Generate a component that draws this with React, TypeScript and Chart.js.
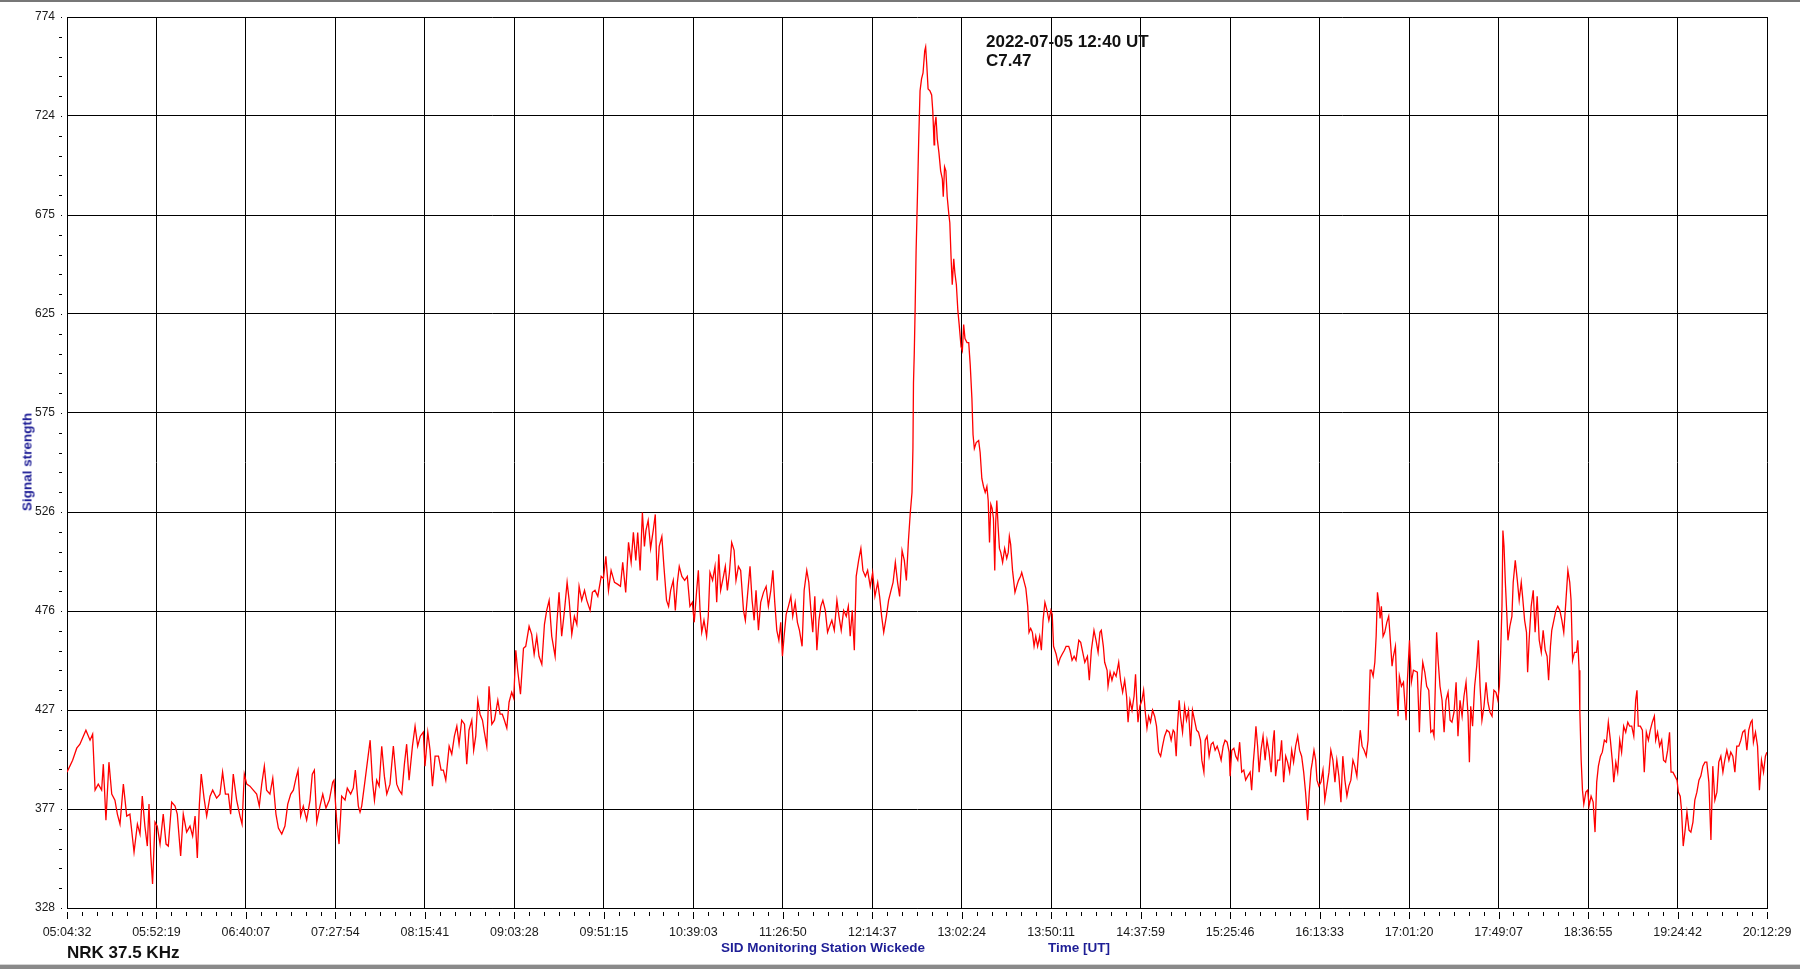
import React, { useEffect, useRef } from 'react';
import { Chart, registerables } from 'chart.js';

Chart.register(...registerables);

// x values are minutes after 05:04:32 UT (first tick) up to 20:12:29 UT (last tick)
const xSpanMinutes = 907.95;
const yMin = 328;
const yMax = 774;

const xTickLabels = [
  '05:04:32', '05:52:19', '06:40:07', '07:27:54', '08:15:41', '09:03:28', '09:51:15',
  '10:39:03', '11:26:50', '12:14:37', '13:02:24', '13:50:11', '14:37:59', '15:25:46',
  '16:13:33', '17:01:20', '17:49:07', '18:36:55', '19:24:42', '20:12:29',
];
const yTickLabels = ['328', '377', '427', '476', '526', '575', '625', '675', '724', '774'];

// 05:04 - 07:40
const morningMinutes = [
  0.0, 3.0, 5.2, 6.9, 10.1, 12.3, 13.7, 15.0, 16.7, 18.5, 19.4, 20.8, 22.4, 23.9, 25.6, 26.9, 28.3, 30.1, 31.9, 33.6,
  35.8, 37.6, 39.0, 40.2, 41.6, 42.9, 43.8, 44.7, 45.7, 47.0, 48.2, 49.7, 51.4, 52.9, 54.1, 55.9, 57.7, 58.9, 60.7, 62.1,
  63.9, 65.7, 67.1, 68.4, 69.6, 70.7, 71.7, 73.2, 74.6, 76.4, 77.8, 79.9, 81.7, 83.1, 84.6, 86.2, 87.4, 88.8, 90.6, 92.4,
  93.5, 94.7, 96.0, 97.7, 99.5, 101.3, 102.7, 104.0, 105.4, 106.6, 108.4, 109.9, 111.6, 112.9, 114.7, 116.4, 117.9, 119.5, 120.9, 122.3,
  123.4, 124.8, 126.2, 128.0, 129.8, 131.0, 132.1, 133.4, 135.1, 136.6, 138.3, 140.1, 141.9, 142.6, 144.0, 145.3, 146.7, 148.5, 149.7, 151.5,
  152.9, 154.0, 155.6, 156.5,
];
const morningSignal = [
  396, 402, 408, 410, 417, 412, 415, 387, 390, 387, 400, 372, 401, 385, 382, 375, 370, 390, 374, 375,
  356, 370, 365, 384, 369, 359, 380, 355, 340, 371, 369, 360, 375, 360, 359, 381, 379, 375, 354, 375,
  366, 369, 364, 374, 353, 380, 395, 383, 374, 384, 387, 383, 385, 396, 385, 385, 375, 395, 382, 374,
  370, 395, 390, 389, 387, 385, 379, 390, 399, 387, 385, 393, 375, 368, 365, 369, 380, 385, 387, 393,
  397, 374, 379, 372, 382, 395, 397, 371, 379, 385, 378, 382, 391, 392, 372, 360, 384, 382, 388, 385,
  388, 397, 379, 376,
];

// 07:40 - 10:13
const riseMinutes = [
  157.4, 159.2, 161.9, 163.1, 164.2, 165.4, 166.7, 168.1, 169.5, 170.8, 172.5, 174.3, 176.1, 177.4, 178.8, 180.2, 181.4, 182.7, 184.5, 185.9,
  187.3, 188.7, 190.3, 191.2, 192.7, 193.9, 195.2, 196.6, 198.4, 199.8, 201.0, 202.3, 204.1, 205.5, 206.9, 208.2, 209.4, 210.8, 212.3, 213.5,
  214.7, 216.2, 217.2, 218.3, 219.4, 220.6, 221.9, 222.9, 224.2, 225.4, 226.9, 228.3, 230.1, 231.3, 232.5, 233.6, 234.9, 236.1, 237.5, 238.6,
  239.7, 240.7, 242.2, 243.8, 245.0, 246.8, 248.2, 249.5, 250.9, 252.1, 253.6, 255.0, 256.2, 257.5, 258.9, 260.7, 261.6, 262.8, 264.2, 265.7,
  267.1, 268.2, 269.6, 271.0, 272.3, 273.5, 274.9, 276.4, 277.6, 279.4, 280.6, 282.0, 283.5, 285.3, 286.5, 287.8, 289.2, 290.6, 292.4, 294.2,
  295.6, 296.8, 298.4, 299.9, 301.3, 302.5, 303.8, 304.8, 306.1, 307.3, 308.4,
];
const riseSignal = [
  379, 392, 412, 392, 382, 392, 389, 409, 394, 385, 390, 409, 390, 387, 385, 400, 410, 392, 409, 419,
  409, 414, 416, 399, 416, 407, 389, 404, 404, 397, 397, 392, 409, 405, 414, 419, 410, 422, 420, 400,
  417, 422, 407, 414, 432, 425, 422, 416, 409, 439, 420, 422, 432, 425, 425, 422, 418, 431, 436, 433,
  457, 447, 435, 458, 459, 469, 465, 455, 464, 454, 450, 470, 477, 482, 464, 454, 470, 486, 464, 477,
  491, 482, 465, 474, 470, 489, 482, 487, 482, 477, 486, 487, 484, 494, 493, 504, 487, 497, 491, 490,
  489, 501, 486, 511, 501, 516, 502, 516, 497, 526, 509,
];

// 10:13 - 12:36
const plateauMinutes = [
  309.2, 310.4, 311.7, 313.1, 314.2, 315.2, 316.3, 317.7, 318.8, 320.2, 321.3, 322.4, 323.8, 324.9, 326.0, 327.0, 328.4, 329.9, 331.3, 332.7,
  334.0, 335.0, 336.3, 337.2, 338.1, 339.0, 340.2, 341.6, 342.5, 343.4, 344.8, 346.1, 347.0, 348.1, 349.1, 350.6, 351.6, 352.7, 353.8, 355.0,
  356.3, 357.3, 358.6, 359.8, 361.3, 362.3, 363.4, 364.8, 365.9, 367.0, 368.0, 369.3, 370.5, 372.0, 373.4, 374.6, 375.9, 377.0, 378.0, 379.1,
  380.2, 381.2, 382.1, 383.0, 384.1, 385.3, 386.6, 387.6, 388.9, 390.1, 391.2, 392.6, 393.7, 395.1, 396.2, 397.3, 398.3, 399.4, 400.5, 401.6,
  402.6, 403.7, 405.0, 406.2, 407.3, 408.5, 409.8, 411.2, 412.3, 413.5, 414.8, 416.2, 417.3, 418.3, 419.4, 420.5, 421.5, 422.8, 424.0, 425.1,
  426.4, 427.6, 429.0, 430.3, 431.5, 433.0, 434.0, 435.1, 436.2, 437.6, 438.8, 440.1, 441.2, 442.4, 443.6, 444.7, 446.0, 447.2, 448.3, 449.4,
  450.4, 451.3,
];
const plateauSignal = [
  517, 522, 508, 517, 525, 492, 509, 514, 499, 482, 479, 487, 492, 477, 491, 499, 494, 492, 494, 479,
  481, 471, 487, 497, 477, 466, 472, 464, 474, 496, 492, 499, 481, 505, 487, 494, 499, 487, 496, 511,
  507, 492, 499, 497, 477, 472, 484, 499, 482, 472, 487, 467, 481, 486, 489, 479, 487, 497, 481, 467,
  462, 471, 454, 464, 475, 479, 484, 474, 481, 471, 467, 459, 487, 497, 491, 477, 466, 484, 457, 472,
  479, 482, 477, 466, 469, 472, 467, 482, 474, 467, 477, 474, 479, 464, 477, 457, 494, 502, 508, 497,
  494, 497, 489, 496, 484, 491, 484, 474, 466, 474, 482, 487, 491, 501, 491, 484, 507, 502, 492, 512,
  526, 536,
];

// 12:36 - 13:59, the flare
const flareMinutes = [
  451.8, 452.1, 452.5, 453.0, 453.5, 454.2, 454.9, 455.6, 456.4, 457.2, 458.1, 458.6, 459.2, 459.9, 460.9, 461.8, 462.4, 463.1, 463.4, 464.1,
  464.8, 465.7, 466.6, 467.5, 468.0, 468.7, 469.4, 470.1, 471.0, 471.5, 472.2, 472.8, 473.6, 474.2, 475.0, 475.8, 476.5, 477.5, 478.2, 478.9,
  479.6, 480.7, 481.6, 482.4, 483.3, 483.9, 484.6, 485.6, 486.9, 487.7, 488.6, 489.5, 490.4, 491.3, 492.0, 492.7, 493.4, 494.1, 494.8, 495.5,
  496.0, 496.6, 497.3, 498.0, 498.7, 499.7, 500.8, 501.9, 502.7, 503.3, 504.0, 505.0, 506.3, 507.5, 508.2, 509.3, 509.9, 511.0, 512.1, 513.1,
  513.8, 514.7, 515.6, 516.5, 517.4, 518.4, 519.5, 520.4, 521.3, 522.3, 523.4, 524.4, 525.5, 526.2, 526.9, 527.6, 528.3, 529.4, 530.4, 531.5,
  532.7, 533.6, 535.0,
];
const flareSignal = [
  558, 591, 605, 629, 657, 684, 713, 737, 743, 746, 757, 759, 750, 738, 737, 735, 727, 710, 719, 724,
  713, 706, 697, 693, 684, 699, 697, 684, 675, 671, 653, 640, 653, 646, 640, 627, 620, 609, 607, 620,
  613, 611, 611, 600, 583, 565, 558, 561, 562, 556, 543, 539, 536, 539, 532, 511, 530, 528, 523, 497,
  521, 532, 519, 508, 506, 501, 508, 503, 506, 514, 510, 497, 486, 490, 492, 494, 496, 492, 488, 479,
  466, 468, 466, 459, 464, 459, 464, 457, 472, 481, 477, 472, 477, 475, 459, 457, 455, 450, 453, 455,
  457, 459, 459,
];

// 14:00 - 17:04
const afternoonMinutes = [
  535.7, 536.8, 537.9, 538.9, 540.4, 541.4, 542.5, 543.6, 545.0, 546.0, 547.1, 548.5, 549.6, 550.7, 551.7, 552.4, 553.5, 554.2, 555.5, 556.0,
  557.1, 558.1, 559.2, 560.3, 561.7, 562.7, 563.8, 564.9, 565.9, 566.7, 567.7, 568.8, 569.9, 570.7, 571.4, 572.0, 573.0, 574.1, 575.0, 575.9,
  576.8, 577.7, 578.7, 579.8, 580.9, 581.9, 583.0, 584.1, 585.1, 586.2, 587.4, 588.7, 589.7, 590.8, 591.5, 592.4, 593.1, 594.0, 594.7, 595.8,
  596.9, 597.9, 599.0, 600.1, 601.1, 602.2, 603.3, 604.3, 605.4, 606.1, 607.2, 607.9, 608.9, 610.0, 611.1, 612.1, 613.2, 614.3, 615.3, 616.4,
  617.5, 618.5, 619.6, 620.7, 621.2, 622.1, 623.2, 624.2, 625.3, 626.3, 627.4, 628.5, 629.5, 630.6, 631.9, 632.7, 633.6, 634.3, 635.0, 635.9,
  636.7, 637.7, 638.8, 639.9, 640.9, 642.0, 643.1, 644.1, 644.8, 645.5, 646.6, 647.7, 648.7, 649.8, 650.9, 651.9, 653.0, 654.1, 655.1, 656.2,
  657.3, 658.3, 659.4, 660.5, 661.5, 662.6, 663.5, 664.4, 665.1, 666.0, 666.9, 667.6, 668.6, 669.7, 670.8, 671.8, 672.9, 674.0, 675.0, 676.1,
  677.2, 678.2, 679.3, 680.4, 681.4, 682.5, 683.6, 684.6, 685.7, 686.8, 687.8, 688.9, 690.0, 690.7, 691.7, 692.8, 693.9, 694.9, 695.5, 696.0,
  696.7, 697.6, 698.5, 699.2, 699.9, 700.6, 701.3, 702.0, 702.9, 703.8, 704.9, 705.9, 707.0, 707.7, 708.4, 709.5, 710.2, 710.9, 711.6, 712.7,
  713.8, 714.5, 715.2, 715.9, 717.0, 718.0, 719.1,
];
const afternoonSignal = [
  457, 452, 454, 452, 462, 461, 456, 451, 454, 442, 457, 467, 462, 456, 466, 467, 459, 451, 447, 439,
  446, 442, 446, 444, 451, 442, 436, 442, 434, 421, 432, 427, 434, 445, 431, 421, 429, 432, 437, 426,
  418, 424, 421, 427, 424, 419, 406, 404, 409, 414, 417, 416, 412, 417, 416, 404, 419, 432, 424, 416,
  429, 422, 427, 409, 427, 422, 417, 416, 412, 402, 396, 412, 414, 404, 410, 411, 407, 409, 406, 402,
  409, 412, 411, 406, 394, 407, 408, 404, 402, 411, 396, 397, 392, 394, 396, 387, 401, 409, 419, 409,
  396, 407, 414, 402, 412, 406, 396, 411, 417, 394, 402, 402, 412, 391, 404, 401, 396, 407, 401, 409,
  414, 407, 404, 396, 386, 372, 386, 397, 401, 407, 402, 392, 389, 391, 397, 382, 389, 396, 407, 402,
  391, 402, 394, 381, 404, 392, 384, 389, 392, 402, 399, 394, 409, 417, 409, 407, 404, 412, 431, 447,
  447, 444, 451, 464, 486, 481, 473, 479, 464, 466, 471, 474, 459, 449, 454, 459, 439, 424, 444, 439,
  441, 431, 422, 442, 462, 441, 447,
];

// 17:06 - 20:12
const eveningMinutes = [
  721.2, 722.3, 723.0, 724.1, 725.2, 726.2, 727.3, 728.4, 729.4, 730.1, 730.8, 731.5, 732.3, 733.3, 734.4, 735.5, 736.5, 737.6, 738.7, 739.7,
  740.8, 741.9, 742.9, 744.0, 745.1, 746.1, 747.2, 748.3, 749.0, 749.7, 750.7, 751.8, 752.9, 753.8, 754.7, 755.7, 756.8, 757.9, 758.9, 760.0,
  761.1, 762.1, 763.2, 764.2, 765.0, 765.7, 766.4, 766.9, 767.5, 768.2, 768.9, 769.6, 770.6, 771.7, 772.4, 773.5, 774.6, 775.6, 776.7, 777.4,
  778.5, 779.5, 780.1, 780.9, 782.0, 783.1, 784.1, 785.2, 786.3, 787.4, 788.4, 789.5, 790.5, 791.3, 792.3, 793.0, 794.1, 795.2, 796.2, 797.3,
  798.4, 799.4, 800.5, 801.6, 802.6, 803.3, 804.1, 805.1, 806.2, 806.9, 807.6, 808.0, 808.7, 809.4, 810.1, 811.2, 812.2, 812.9, 814.0, 815.1,
  816.1, 817.0, 817.9, 819.0, 820.0, 821.1, 822.2, 823.2, 824.3, 825.4, 826.1, 827.2, 828.2, 829.3, 830.3, 831.4, 832.5, 833.6, 834.6, 835.7,
  836.8, 837.8, 838.5, 839.2, 840.3, 841.4, 842.4, 843.5, 844.6, 845.6, 846.7, 847.8, 848.5, 849.5, 850.6, 851.7, 852.7, 853.8, 854.9, 855.9,
  856.7, 857.7, 858.8, 859.9, 860.6, 861.6, 862.3, 863.2, 864.1, 865.2, 866.3, 867.3, 868.4, 869.4, 870.5, 871.6, 872.6, 873.7, 874.8, 875.8,
  876.9, 878.0, 879.0, 880.1, 881.2, 882.2, 883.3, 884.4, 885.4, 886.5, 887.6, 888.6, 889.7, 890.8, 891.8, 892.9, 894.0, 895.0, 896.1, 897.2,
  898.2, 899.3, 900.0, 900.7, 901.8, 902.9, 903.9, 905.0, 906.1, 907.1, 907.9,
];
const eveningSignal = [
  446, 416, 436, 451, 446, 439, 437, 416, 417, 414, 439, 466, 452, 439, 432, 416, 432, 436, 422, 421,
  426, 441, 414, 432, 424, 434, 441, 424, 401, 429, 419, 439, 449, 462, 439, 422, 429, 441, 431, 426,
  424, 437, 436, 432, 439, 456, 479, 517, 509, 491, 477, 462, 469, 474, 491, 502, 492, 482, 491, 484,
  472, 466, 446, 462, 479, 487, 466, 484, 462, 456, 467, 457, 454, 442, 459, 467, 472, 477, 479, 477,
  472, 466, 481, 497, 491, 482, 452, 456, 456, 462, 447, 426, 402, 387, 380, 386, 387, 379, 384, 381,
  366, 391, 399, 404, 406, 412, 411, 421, 412, 401, 391, 401, 396, 412, 406, 419, 416, 421, 419, 419,
  414, 432, 437, 419, 419, 417, 396, 416, 412, 417, 421, 424, 412, 416, 409, 412, 402, 401, 407, 416,
  396, 396, 394, 392, 386, 384, 377, 359, 366, 376, 367, 366, 371, 382, 386, 392, 394, 399, 401, 401,
  391, 362, 399, 382, 386, 401, 404, 396, 402, 407, 402, 406, 404, 396, 409, 409, 412, 416, 417, 407,
  417, 421, 422, 411, 416, 409, 387, 402, 396, 404, 406,
];

const FONT = "'Liberation Sans', Arial, sans-serif";
const BLUE = '#1e1e96';

const pairUp = (minutes: number[], signal: number[]) =>
  minutes.map((m, i) => ({ x: m, y: signal[i] }));

// small tick marks: offset from the axes like in the original software
const axisMarks = {
  id: 'axisMarks',
  afterDraw(chart: any) {
    const { ctx, chartArea } = chart;
    const xs = chart.scales.x;
    const ys = chart.scales.y;
    ctx.save();
    ctx.fillStyle = '#000';

    const xv: number[] = xs.ticks.map((t: any) => t.value);
    xv.forEach((v, i) => {
      const px = Math.round(xs.getPixelForValue(v));
      ctx.fillRect(px, chartArea.bottom + 4, 1, 7);
      if (i < xv.length - 1) {
        const step = (xv[i + 1] - v) / 6;
        for (let j = 1; j < 6; j++) {
          const mx = Math.round(xs.getPixelForValue(v + j * step));
          ctx.fillRect(mx, chartArea.bottom + 4, 1, 4);
        }
      }
    });

    const yv: number[] = ys.ticks.map((t: any) => t.value);
    yv.forEach((v, i) => {
      const py = Math.round(ys.getPixelForValue(v));
      ctx.fillRect(chartArea.left - 6, py, 1, 1);
      if (i < yv.length - 1) {
        const step = (yv[i + 1] - v) / 5;
        for (let j = 1; j < 5; j++) {
          const my = Math.round(ys.getPixelForValue(v + j * step));
          ctx.fillRect(chartArea.left - 8, my, 3, 1);
        }
      }
    });
    ctx.restore();
  },
};

const App: React.FC = () => {
  const canvasRef = useRef<HTMLCanvasElement | null>(null);

  useEffect(() => {
    document.body.style.margin = '0';
    if (!canvasRef.current) return;

    const points = [
      ...pairUp(morningMinutes, morningSignal),
      ...pairUp(riseMinutes, riseSignal),
      ...pairUp(plateauMinutes, plateauSignal),
      ...pairUp(flareMinutes, flareSignal),
      ...pairUp(afternoonMinutes, afternoonSignal),
      ...pairUp(eveningMinutes, eveningSignal),
    ];

    const xStep = xSpanMinutes / (xTickLabels.length - 1);
    const yStep = (yMax - yMin) / (yTickLabels.length - 1);

    const chart = new Chart(canvasRef.current, {
      type: 'line',
      data: {
        datasets: [
          {
            data: points,
            borderColor: '#ff0000',
            borderWidth: 1.3,
            pointRadius: 0,
            tension: 0,
          },
        ],
      },
      options: {
        animation: false,
        responsive: false,
        parsing: false as any,
        layout: { padding: { top: 17, right: 33, left: 0, bottom: 0 } },
        plugins: {
          legend: { display: false },
          tooltip: { enabled: false },
        },
        scales: {
          x: {
            type: 'linear',
            min: 0,
            max: xSpanMinutes,
            afterBuildTicks: (scale: any) => {
              scale.ticks = xTickLabels.map((_, i) => ({ value: i * xStep }));
            },
            afterFit: (scale: any) => {
              // fixed plot box: labels may overhang the layout padding
              scale.height = 61;
              scale.paddingLeft = 0;
              scale.paddingRight = 0;
            },
            ticks: {
              autoSkip: false,
              maxRotation: 0,
              padding: 17,
              color: '#1a1a1a',
              font: { family: FONT, size: 12.5 },
              callback: (_v: any, i: number) => xTickLabels[i],
            },
            grid: { color: '#000', lineWidth: 1, drawTicks: false },
            border: { color: '#000', width: 1 },
          },
          y: {
            type: 'linear',
            min: yMin,
            max: yMax,
            afterBuildTicks: (scale: any) => {
              scale.ticks = yTickLabels.map((_, i) => ({ value: yMin + i * yStep }));
            },
            afterFit: (scale: any) => {
              scale.width = 67;
              scale.paddingTop = 0;
              scale.paddingBottom = 0;
            },
            ticks: {
              padding: 12,
              color: '#1a1a1a',
              font: { family: FONT, size: 12 },
              callback: (_v: any, i: number) => yTickLabels[i],
            },
            grid: { color: '#000', lineWidth: 1, drawTicks: false },
            border: { color: '#000', width: 1 },
          },
        },
      },
      plugins: [axisMarks],
    });

    return () => {
      chart.destroy();
    };
  }, []);

  return (
    <div style={{ position: 'relative', width: 1800, height: 969, overflow: 'hidden', background: '#fff', fontFamily: FONT }}>
      <canvas ref={canvasRef} width={1800} height={969} style={{ position: 'absolute', left: 0, top: 0 }} />
      <div style={{ position: 'absolute', left: 0, top: 0, width: 1800, height: 2, background: '#777' }} />
      <div style={{ position: 'absolute', left: 0, top: 964, width: 1800, height: 1, background: '#d4d4d4' }} />
      <div style={{ position: 'absolute', left: 0, top: 965, width: 1800, height: 4, background: '#8a8a8a' }} />

      <div
        style={{
          position: 'absolute',
          left: 27,
          top: 462,
          transform: 'translate(-50%, -50%) rotate(-90deg)',
          whiteSpace: 'nowrap',
          color: BLUE,
          fontWeight: 'bold',
          fontSize: 13.5,
          lineHeight: '15px',
        }}
      >
        Signal strength
      </div>

      <div
        style={{
          position: 'absolute',
          left: 986,
          top: 33,
          color: '#111',
          fontWeight: 'bold',
          fontSize: 17,
          lineHeight: '18.7px',
          whiteSpace: 'nowrap',
        }}
      >
        <div>2022-07-05 12:40 UT</div>
        <div>C7.47</div>
      </div>

      <div
        style={{
          position: 'absolute',
          left: 67,
          top: 943,
          color: '#111',
          fontWeight: 'bold',
          fontSize: 17,
          lineHeight: '20px',
          whiteSpace: 'nowrap',
        }}
      >
        NRK 37.5 KHz
      </div>

      <div
        style={{
          position: 'absolute',
          left: 823,
          top: 940,
          transform: 'translateX(-50%)',
          color: BLUE,
          fontWeight: 'bold',
          fontSize: 13.5,
          lineHeight: '16px',
          whiteSpace: 'nowrap',
        }}
      >
        SID Monitoring Station Wickede
      </div>

      <div
        style={{
          position: 'absolute',
          left: 1048,
          top: 940,
          color: BLUE,
          fontWeight: 'bold',
          fontSize: 13.5,
          lineHeight: '16px',
          whiteSpace: 'nowrap',
        }}
      >
        Time [UT]
      </div>
    </div>
  );
};

export default App;
